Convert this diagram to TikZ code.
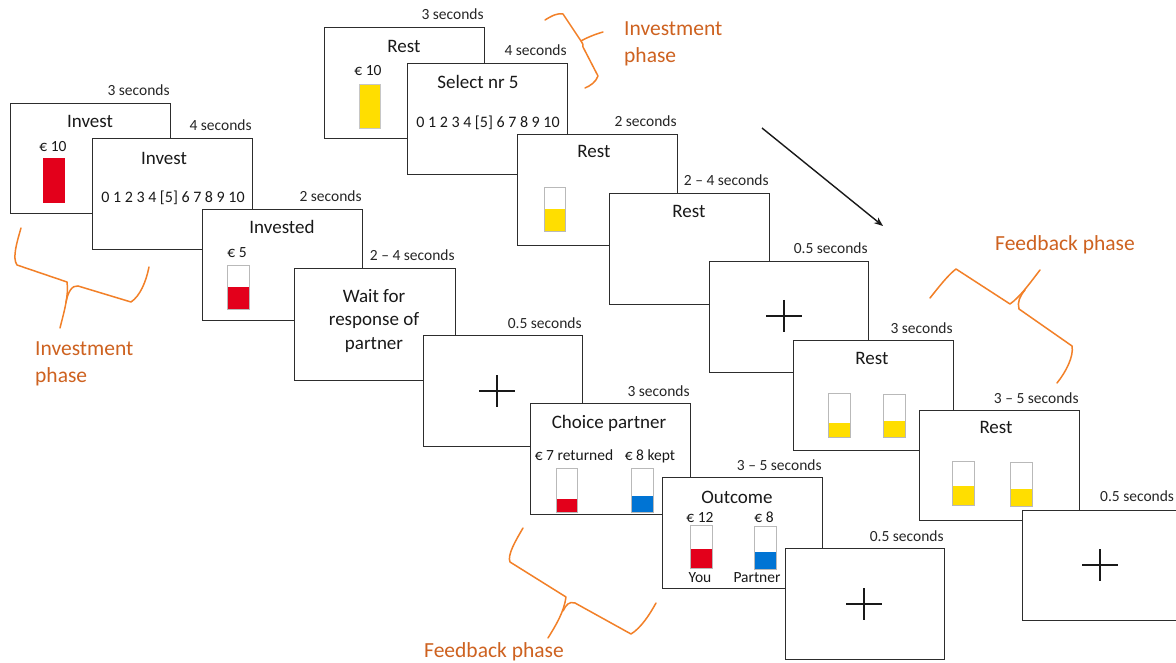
\documentclass[tikz,border=0pt]{standalone}
\usepackage{fontspec}
\setmainfont{Carlito}
\usetikzlibrary{arrows.meta}
\definecolor{barred}{RGB}{227,0,27}
\definecolor{baryellow}{RGB}{255,222,0}
\definecolor{barblue}{RGB}{0,116,212}
\definecolor{phaseorange}{RGB}{206,98,32}
\definecolor{braceorange}{RGB}{242,128,40}
\definecolor{edgegray}{RGB}{45,45,45}
\tikzset{
  screen/.style={draw=edgegray, line width=1.3pt, fill=white, anchor=north west, inner sep=0pt},
  timing/.style={anchor=base east, inner sep=0pt, font=\fontsize{15.5}{18}\selectfont, text=black!85},
  ttl/.style={anchor=base, inner sep=0pt, font=\fontsize{19}{23}\selectfont, text=black!90},
  smalltxt/.style={anchor=base, inner sep=0pt, font=\fontsize{15.5}{18}\selectfont, text=black!90},
  numtxt/.style={anchor=base, inner sep=0pt, font=\fontsize{16}{19}\selectfont, text=black!90},
  barbox/.style={draw=gray!55, line width=0.9pt, fill=white},
  crossline/.style={line width=1.8pt, draw=black!90},
  bracepath/.style={draw=braceorange, line width=1.5pt, line join=round, line cap=round},
  phase/.style={anchor=base west, inner sep=0pt, text=phaseorange, font=\fontsize{21.5}{26}\selectfont},
}
\newcommand\screenbox[6]{%
  \node[screen, minimum width=#4pt, minimum height=#5pt] (#1) at (#2,#3) {};
  \node[timing] (#1t) at ([xshift=-1.5pt,yshift=7pt]#1.north east) {#6};
}
\newcommand\levelbar[6]{% x1 y1 x2 y2 filltop colour
  \draw[barbox] (#1,#2) rectangle (#3,#4);
  \fill[#6] (#1,#5) rectangle (#3,#4);
  \draw[gray!55, line width=0.9pt] (#1,#2) rectangle (#3,#4);
}
\newcommand\fixcross[2]{%
  \draw[crossline] (#1-18,#2) -- (#1+18,#2);
  \draw[crossline] (#1,#2-16) -- (#1,#2+16);
}
\begin{document}
\begin{tikzpicture}[x=1pt,y=-1pt]
\useasboundingbox (0,0) rectangle (1176,663);
\fill[white] (0,0) rectangle (1176,663);
\clip (0,0) rectangle (1176,663);

% ---------------- left / lower sequence ----------------
\screenbox{a1}{10}{103}{160}{110}{3 seconds}
\node[ttl] (a1x) at (90,128) {Invest};
\node[smalltxt] (a1e) at (53,152) {€ 10};
\fill[barred] (43,158) rectangle (65,203);

\screenbox{a2}{92}{138}{160}{111}{4 seconds}
\node[ttl] (a2x) at (164,165) {Invest};
\node[numtxt] (a2n) at (173,203) {0 1 2 3 4 [5] 6 7 8 9 10};

\screenbox{a3}{202}{209}{160}{111}{2 seconds}
\node[ttl] (a3x) at (282,234) {Invested};
\node[smalltxt] (a3e) at (237,258) {€ 5};
\levelbar{227}{265}{249}{309}{287}{barred}

\screenbox{a4}{294}{268}{161}{112}{2 – 4 seconds}
\node[ttl] (a4x) at (374,302) {Wait for};
\node[ttl] (a4y) at (374,326) {response of};
\node[ttl] (a4z) at (374,349) {partner};

\screenbox{a5}{423}{335}{159}{111}{0.5 seconds}
\fixcross{497}{391}

\screenbox{a6}{530}{403}{160}{111}{3 seconds}
\node[ttl] (a6x) at (609,428) {Choice partner};
\node[smalltxt] (a6r) at (574,460) {€ 7 returned};
\node[smalltxt] (a6k) at (650,460) {€ 8 kept};
\levelbar{556}{468}{577}{512}{499}{barred}
\levelbar{631}{468}{653}{512}{496}{barblue}

\screenbox{a7}{662}{477}{160}{111}{3 – 5 seconds}
\node[ttl] (a7x) at (737,503) {Outcome};
\node[smalltxt] (a7e) at (700,522) {€ 12};
\node[smalltxt] (a7f) at (764,522) {€ 8};
\levelbar{690}{525}{712}{568}{549}{barred}
\levelbar{754}{526}{776}{569}{552}{barblue}
\node[smalltxt] (a7y) at (700,582) {You};
\node[smalltxt] (a7p) at (757,582) {Partner};

\screenbox{a8}{785}{548}{159}{111}{0.5 seconds}
\fixcross{864}{604}

% ---------------- upper sequence ----------------
\screenbox{b1}{324}{27}{160}{111}{3 seconds}
\node[ttl] (b1x) at (404,53) {Rest};
\node[smalltxt] (b1e) at (368,76) {€ 10};
\fill[baryellow] (359,84) rectangle (380,128);
\draw[gray!45, line width=0.7pt] (359,84) rectangle (380,128);

\screenbox{b2}{407}{63}{160}{111}{4 seconds}
\node[ttl] (b2x) at (478,89) {Select nr 5};
\node[numtxt] (b2n) at (488,128) {0 1 2 3 4 [5] 6 7 8 9 10};

\screenbox{b3}{517}{134}{160}{111}{2 seconds}
\node[ttl] (b3x) at (594,158) {Rest};
\levelbar{544}{187}{565}{231}{209}{baryellow}

\screenbox{b4}{609}{193}{160}{111}{2 – 4 seconds}
\node[ttl] (b4x) at (689,218) {Rest};

\screenbox{b5}{709}{261}{159}{111}{0.5 seconds}
\fixcross{784}{316}

\screenbox{b6}{793}{340}{160}{110}{3 seconds}
\node[ttl] (b6x) at (872,364) {Rest};
\levelbar{828}{393}{850}{437}{423}{baryellow}
\levelbar{883}{394}{905}{437}{421}{baryellow}

\screenbox{b7}{919}{410}{160}{110}{3 – 5 seconds}
\node[ttl] (b7x) at (996,433) {Rest};
\levelbar{952}{461}{974}{505}{486}{baryellow}
\levelbar{1010}{462}{1032}{506}{489}{baryellow}

\node[screen, minimum width=170pt, minimum height=110pt] (b8) at (1022,510) {};
\node[timing, anchor=base west] (b8t) at (1100,501) {0.5 seconds};
\fixcross{1100}{565}

% ---------------- arrow ----------------
\coordinate (arrS) at (762,128);
\coordinate (arrE) at (883,226);
\draw[line width=1.4pt, black!90, -{Stealth[length=9pt,width=7pt]}] (arrS) -- (arrE);

% ---------------- braces and phase labels ----------------
% top investment brace
\draw[bracepath] (545,20) .. controls (553,15) and (558,13) .. (563,14) -- (581,41) .. controls (588,37) and (596,34) .. (603,32);
\draw[bracepath] (581,41) .. controls (583,44) .. (583,47) -- (598,76) .. controls (596,82) and (590,86) .. (585,88);
\node[phase] (ph1a) at (624,36) {Investment};
\node[phase] (ph1b) at (624,63) {phase};

% left investment brace
\draw[bracepath] (21,228) .. controls (17,242) and (12,258) .. (17,265) -- (67,282) .. controls (69,295) and (64,312) .. (60,328);
\draw[bracepath] (78,286) .. controls (72,285) and (68,292) .. (66,302);
\draw[bracepath] (78,286) -- (131,302) .. controls (140,296) and (146,282) .. (149,267);
\node[phase] (ph2a) at (35,355) {Investment};
\node[phase] (ph2b) at (35,382) {phase};

% bottom feedback brace
\draw[bracepath] (523,528) .. controls (516,540) and (507,555) .. (510,562) -- (566,597) .. controls (564,612) and (556,625) .. (548,638);
\draw[bracepath] (575,603) .. controls (569,601) and (566,605) .. (563,611);
\draw[bracepath] (575,603) -- (631,634) .. controls (641,628) and (650,614) .. (656,603);
\node[phase] (ph3) at (424,657) {Feedback phase};

% right feedback brace
\draw[bracepath] (930,298) .. controls (938,288) and (948,275) .. (956,269) -- (1010,304) .. controls (1020,297) and (1030,283) .. (1040,270);
\draw[bracepath] (1019,309) .. controls (1017,302) and (1020,296) .. (1025,290);
\draw[bracepath] (1019,309) -- (1072,346) .. controls (1074,356) and (1066,372) .. (1057,383);
\node[phase] (ph4) at (995,251) {Feedback phase};
\end{tikzpicture}
\end{document}
